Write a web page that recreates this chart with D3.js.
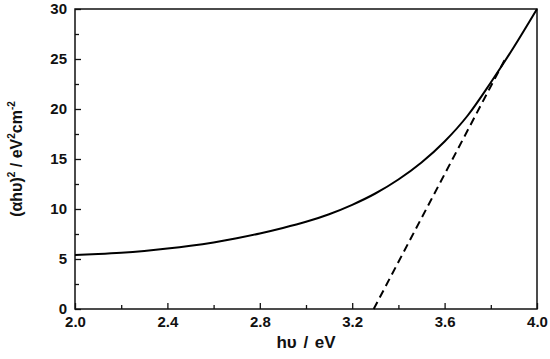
<!DOCTYPE html>
<meta charset="utf-8">
<script src="https://d3js.org/d3.v7.min.js"></script>
<style>
  body { margin: 0; background: #fff; }
  text { font-family: "Liberation Sans", Arial, sans-serif; font-weight: bold; fill: #111; }
</style>
<svg id="chart" width="550" height="359"></svg>
<script>
// photon energy (eV) and (alpha h nu)^2
var energy = [2.0, 2.1, 2.2, 2.3, 2.4, 2.5, 2.6, 2.7, 2.8, 2.9, 3.0,
              3.1, 3.2, 3.3, 3.4, 3.5, 3.6, 3.7, 3.8, 3.9, 4.0];
var absorb = [5.40, 5.50, 5.63, 5.81, 6.04, 6.32, 6.66, 7.07, 7.55, 8.10, 8.72,
              9.48, 10.42, 11.55, 12.95, 14.65, 16.75, 19.35, 22.65, 26.20, 30.00];

// linear fit (Tauc extrapolation)
var fitEnergy = [3.293, 3.86];
var fitAbsorb = [0, 24.9];

var xTicks = [2.0, 2.4, 2.8, 3.2, 3.6, 4.0];
var yTicks = [0, 5, 10, 15, 20, 25, 30];

var svg = d3.select("#chart");
var margin = {left: 75, right: 13, top: 9, bottom: 50};
var width = 550 - margin.left - margin.right,
    height = 359 - margin.top - margin.bottom;

var g = svg.append("g").attr("transform", "translate(" + margin.left + "," + margin.top + ")");

var x = d3.scaleLinear().domain([2.0, 4.0]).range([0, width]);
var y = d3.scaleLinear().domain([0, 30]).range([height, 0]);

// minor ticks (inward)
var xAxisMinor = d3.axisBottom(x).tickValues(d3.range(2.2, 4.0, 0.4)).tickSize(-4).tickFormat("");
var yAxisMinor = d3.axisLeft(y).tickValues(d3.range(2.5, 30, 5)).tickSize(-4).tickFormat("");
// major ticks (inward)
var xAxis = d3.axisBottom(x).tickValues(xTicks).tickSize(-6).tickPadding(4).tickFormat(d3.format(".1f"));
var yAxis = d3.axisLeft(y).tickValues(yTicks).tickSize(-6).tickPadding(8).tickFormat(d3.format("d"));

g.append("g").attr("transform", "translate(0," + height + ")").call(xAxisMinor);
g.append("g").call(yAxisMinor);
var gx = g.append("g").attr("transform", "translate(0," + height + ")").call(xAxis);
var gy = g.append("g").call(yAxis);

g.selectAll(".tick line").attr("stroke", "#111").attr("stroke-width", 1.3);
g.selectAll(".domain").remove();
gx.selectAll("text").style("font-size", "15px").attr("dy", "0.95em");
gy.selectAll("text").style("font-size", "15px");

// frame
g.append("rect")
  .attr("width", width).attr("height", height)
  .attr("fill", "none").attr("stroke", "#111").attr("stroke-width", 1.5);

// curve
var line = d3.line()
  .x(function(d, i){ return x(energy[i]) })
  .y(function(d){ return y(d) })
  .curve(d3.curveMonotoneX);

g.append("path")
  .datum(absorb)
  .attr("d", line)
  .attr("fill", "none")
  .attr("stroke", "#000")
  .attr("stroke-width", 2);

// dashed extrapolation
var fit = d3.line()
  .x(function(d, i){ return x(fitEnergy[i]) })
  .y(function(d){ return y(d) });

g.append("path")
  .datum(fitAbsorb)
  .attr("d", fit)
  .attr("fill", "none")
  .attr("stroke", "#000")
  .attr("stroke-width", 2)
  .style("stroke-dasharray", "8,5");

// axis titles
svg.append("text")
  .attr("x", margin.left + width / 2)
  .attr("y", 348)
  .attr("text-anchor", "middle")
  .style("font-size", "17px")
  .style("word-spacing", "2px")
  .text("h\u03C5 / eV");

var yt = svg.append("text")
  .attr("transform", "translate(22," + (margin.top + height / 2) + ") rotate(-90)")
  .attr("text-anchor", "middle")
  .style("font-size", "16px");
yt.append("tspan").text("(\u03B1h\u03C5)");
yt.append("tspan").attr("dy", -7).style("font-size", "10px").text("2");
yt.append("tspan").attr("dy", 7).text(" / eV");
yt.append("tspan").attr("dy", -7).style("font-size", "10px").text("2");
yt.append("tspan").attr("dy", 7).text("cm");
yt.append("tspan").attr("dy", -7).style("font-size", "10px").text("-2");
</script>
